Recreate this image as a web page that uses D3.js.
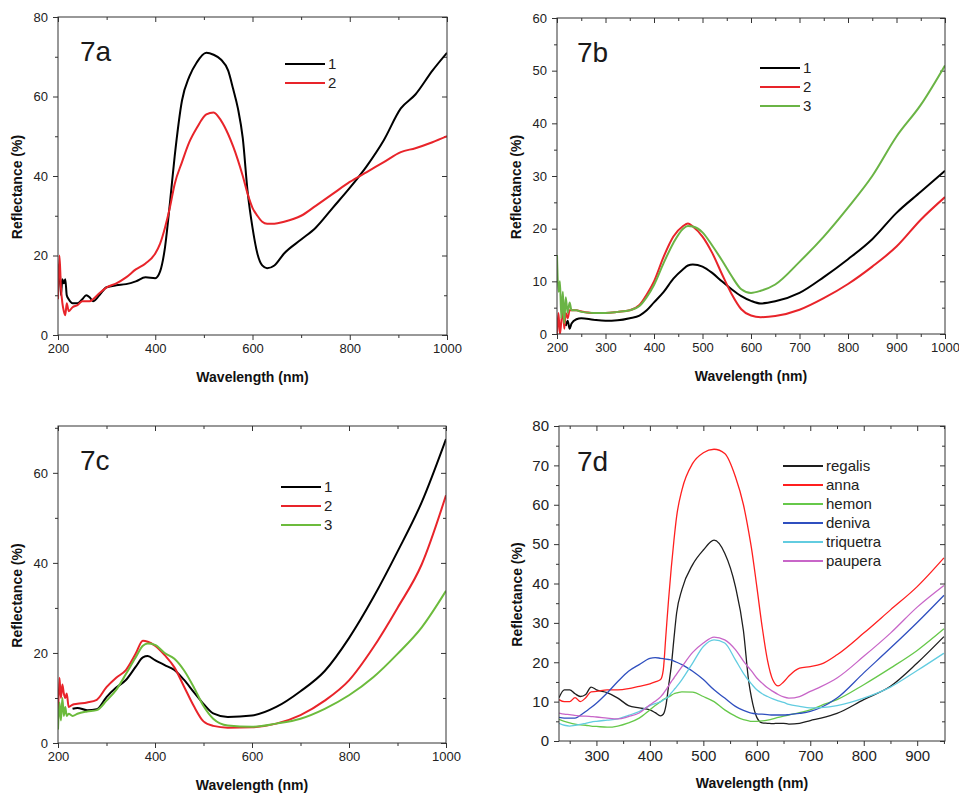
<!DOCTYPE html>
<html>
<head>
<meta charset="utf-8">
<script src="https://cdn.jsdelivr.net/npm/d3@7"></script>
<style>
  body { margin: 0; background: #fff; }
  svg text { font-family: Arial, "Liberation Sans", sans-serif; }
</style>
</head>
<body>
<script>
// ---- 7a ----
var waveA = [200,203,206,209,212,215,218,222,230,240,250,258,265,272,285,300,320,340,360,380,400,410,420,430,440,455,470,485,505,520,535,550,560,570,580,590,600,610,620,630,645,665,700,730,765,800,835,870,905,935,970,1000];
var a1 = [12,18,10,14,13,14,10,9,8,8,9,10,9.5,8.5,10,12,12.5,12.8,13.5,14.5,14.3,16,22,33,45,59,65,68.5,71,70.5,69.3,66.5,62,57,49.5,36,27,20.5,17.5,16.8,17.5,20.5,24,27,32,37,42.5,49,57,60.5,66.5,71];
var a2 = [9,20,12,8,6,5,8,6,7,7.5,8.5,8.5,8.5,9,10.5,12,13,14.5,16.5,18,20.5,23,27,32,38,43.5,48.5,52,55.5,56,54,50.5,47.5,44,40,35.5,32,30,28.5,28,28,28.5,30,32.5,35.5,38.5,41,43.5,46,47,48.5,50];

// ---- 7b ----
var waveB = [200,203,206,209,212,215,218,222,226,230,240,250,275,300,325,350,370,385,400,420,440,460,470,480,500,520,540,560,580,600,620,650,700,750,800,850,900,950,1000];
var b1 = [null,null,null,null,null,null,1.5,2.5,1,2,2.8,3,2.7,2.5,2.6,3,3.5,4.5,6,8,10.5,12.3,13,13.2,12.8,11.6,10,8.5,7.2,6.3,5.8,6.2,7.8,10.8,14.2,18,23,27,31];
var b2 = [0,4,0,2.5,5,1,4,3,4.5,4.5,4.5,4.3,4,4,4.2,4.5,5.5,7.5,10,14.7,18.5,20.5,21,20.4,18.5,15.4,11.4,7.6,4.7,3.5,3.2,3.4,4.6,6.8,9.5,12.8,16.6,21.7,26];
var b3 = [15,8,10,3,8,2,7,4,6,4.5,4.5,4.2,4,4,4.2,4.5,5.3,7,9.3,13.5,17.3,20,20.5,20.4,19.3,16.8,14,11,8.5,7.8,8.2,9.4,13.7,18.5,24,30,37.5,43.5,51];

// ---- 7c ----
var waveC = [200,203,206,209,212,215,218,222,230,240,260,280,300,320,340,360,375,385,400,420,440,460,480,500,520,550,600,650,700,750,800,850,900,950,1000];
var c1 = [null,null,null,null,null,null,null,null,7.6,7.8,7.3,7.5,10.2,12.3,14,16.9,19,19.3,18.4,17.3,16.2,14,11.3,8.7,6.6,5.8,6.1,8,11.5,16,23.3,32.3,42.5,53.5,67.5];
var c2 = [5,14.5,10,13,11,10,11,8,8.5,8.7,9,9.6,12.4,14.5,16.2,19.8,22.7,22.5,21.6,19.5,16.8,12.5,8.2,4.8,3.8,3.4,3.5,4.3,6.2,9.4,13.9,21.2,30,39.7,55];
var c3 = [3,9,5,10,6,8,6,6.5,6,6.5,7,7.3,9.4,11.8,15.3,19,21.6,22.1,21.8,20,18.7,16.1,12.4,8.2,5.4,3.9,3.6,4.3,5.4,7.6,10.6,14.6,19.8,25.7,33.8];

// ---- 7d ----
var waveD = [230,240,250,260,270,280,290,300,320,340,360,380,400,410,420,425,430,435,440,445,450,460,480,500,520,540,560,575,585,590,600,610,620,630,640,650,660,680,700,720,750,800,850,900,950];
var regalis = [11,13,13,12,11.3,11.8,13.7,13,12.3,10.9,9,8.4,7.9,7.2,6.4,6.8,9,14,19,26,32.5,38.5,44.8,48.5,51,47.7,39.2,28,15,11,6,4.6,4.5,4.4,4.5,4.5,4.3,4.5,5.2,5.8,7,10.5,13.9,19.8,26.5];
var anna = [10.5,10,10,11,10,11,12.5,12.6,13,13,13.3,13.9,14.5,15,15.6,18,27,36,44,51,57,63.8,70.5,73.2,74.1,73,67.1,60,53,49,39.2,29,20.5,15.5,14,15,16.5,18.5,18.9,19.5,21.9,27.4,33.3,39.2,46.5];
var hemon = [5.5,5,4.6,4.3,4.1,4,3.8,3.7,3.5,3.8,4.6,5.8,7.9,9,10,10.5,10.9,11.2,11.6,12,12.2,12.5,12.4,11.3,10,7.9,6.3,5.4,5.1,5,5,5.1,5.3,5.6,6,6.3,6.6,7.2,7.9,9,10.5,14.3,18.5,23,28.5];
var deniva = [6,5.8,5.8,5.8,6.5,7.5,8.5,9.6,12.2,15.1,17.7,19.4,21,21.2,21,20.9,20.8,20.7,20.6,20.3,20,19.4,17.7,15.6,13,10.9,8.8,7.8,7.3,7.1,6.9,6.8,6.7,6.6,6.6,6.6,6.7,7,7.5,8.5,10.9,17.3,23.6,30.1,37];
var triquetra = [4.5,4,3.8,4,4.2,4.5,4.8,5,5.3,5.6,6.5,7.5,9,9.5,10,10.4,10.8,11.3,12.2,13,13.8,15.6,19.8,24,25.7,24.9,20.6,17.2,15.3,14.5,13,12,11.3,10.7,10.2,9.8,9.3,8.8,8.4,8.5,9,10.9,13.7,17.9,22.3];
var paupera = [7.1,6.8,6.7,6.5,6.3,6.3,6.2,6.1,5.8,5.6,6.2,7.1,9.2,10.1,11.2,12,13,14,15.1,16,17,18.9,22.5,24.9,26.4,25.7,23.2,20.3,18.6,17.8,16,14.7,13.5,12.6,11.8,11.2,10.9,11.3,12.6,13.8,16,21.5,27.4,34,39.5];

var namesD = ["regalis", "anna", "hemon", "deniva", "triquetra", "paupera"];

// ticks
var xMajorA = [200, 400, 600, 800, 1000], xMinorA = [300, 500, 700, 900];
var yMajorA = [0, 20, 40, 60, 80], yMinorA = [10, 30, 50, 70];
var xMajorB = [200, 300, 400, 500, 600, 700, 800, 900, 1000], xMinorB = [250, 350, 450, 550, 650, 750, 850, 950];
var yMajorB = [0, 10, 20, 30, 40, 50, 60], yMinorB = [5, 15, 25, 35, 45, 55];
var yMajorC = [0, 20, 40, 60], yMinorC = [10, 30, 50, 70];
var xMajorD = [300, 400, 500, 600, 700, 800, 900], xMinorD = [250, 350, 450, 550, 650, 750, 850, 950];
var yMajorD = [0, 10, 20, 30, 40, 50, 60, 70, 80], yMinorD = [5, 15, 25, 35, 45, 55, 65, 75];

var svg = d3.select("body").append("svg")
  .attr("width", 959)
  .attr("height", 796);

function drawPanel(p) {
  var w = p.right - p.left, h = p.bottom - p.top;
  var g = svg.append("g").attr("transform", "translate(" + p.left + "," + p.top + ")");

  var x = d3.scaleLinear().domain(p.xDomain).range([0, w]);
  var y = d3.scaleLinear().domain(p.yDomain).range([h, 0]);

  g.append("clipPath").attr("id", "clip" + p.label)
    .append("rect").attr("width", w).attr("height", h);

  function tidy(sel, size) {
    sel.select(".domain").remove();
    sel.selectAll("line").attr("stroke", "#333");
    sel.selectAll("text").style("font-size", size + "px").attr("fill", "#222");
  }

  // outward ticks with labels on bottom and left
  g.append("g").attr("transform", "translate(0," + h + ")")
    .call(d3.axisBottom(x).tickValues(p.xMajor).tickSize(5).tickPadding(4).tickFormat(d3.format("d")))
    .call(tidy, p.tickFont);
  g.append("g").attr("transform", "translate(0," + h + ")")
    .call(d3.axisBottom(x).tickValues(p.xMinor).tickSize(3).tickFormat(""))
    .call(tidy, p.tickFont);
  g.append("g")
    .call(d3.axisLeft(y).tickValues(p.yMajor).tickSize(5).tickPadding(5).tickFormat(d3.format("d")))
    .call(tidy, p.tickFont);
  g.append("g")
    .call(d3.axisLeft(y).tickValues(p.yMinor).tickSize(3).tickFormat(""))
    .call(tidy, p.tickFont);

  // inward ticks on top and right
  g.append("g").call(d3.axisTop(x).tickValues(p.xMajor).tickSize(-5).tickFormat("")).call(tidy, 1);
  g.append("g").call(d3.axisTop(x).tickValues(p.xMinor).tickSize(-3).tickFormat("")).call(tidy, 1);
  g.append("g").attr("transform", "translate(" + w + ",0)")
    .call(d3.axisRight(y).tickValues(p.yMajor).tickSize(-5).tickFormat("")).call(tidy, 1);
  g.append("g").attr("transform", "translate(" + w + ",0)")
    .call(d3.axisRight(y).tickValues(p.yMinor).tickSize(-3).tickFormat("")).call(tidy, 1);

  var line = d3.line()
    .defined(function(d) { return d[1] != null; })
    .x(function(d) { return x(d[0]); })
    .y(function(d) { return y(d[1]); })
    .curve(d3.curveMonotoneX);

  var lines = g.append("g").attr("clip-path", "url(#clip" + p.label + ")");
  p.series.forEach(function(s) {
    lines.append("path")
      .datum(p.wave.map(function(wl, i) { return [wl, s.values[i]]; }))
      .attr("d", line)
      .attr("fill", "none")
      .attr("stroke", s.color)
      .attr("stroke-width", p.lineWidth)
      .attr("stroke-linejoin", "round");
  });

  g.append("rect")
    .attr("width", w).attr("height", h)
    .attr("fill", "none").attr("stroke", "#333").attr("stroke-width", 1);

  g.append("text")
    .attr("x", p.tagX).attr("y", p.tagY)
    .text(p.label)
    .style("font-size", "28px")
    .attr("fill", "#1a1a1a");

  // legend
  p.series.forEach(function(s, i) {
    var ly = p.legY + i * p.legStep;
    g.append("line")
      .attr("x1", p.legX).attr("x2", p.legX + 40)
      .attr("y1", ly).attr("y2", ly)
      .attr("stroke", s.color)
      .attr("stroke-width", p.legWidth);
    g.append("text")
      .attr("x", p.legX + 43).attr("y", ly)
      .attr("dy", "0.35em")
      .text(s.name)
      .style("font-size", "15px")
      .attr("fill", "#222");
  });

  g.append("text")
    .attr("x", w / 2).attr("y", h + 47)
    .attr("text-anchor", "middle")
    .text("Wavelength (nm)")
    .style("font-size", "14px").style("font-weight", "bold")
    .attr("fill", "#111");

  g.append("text")
    .attr("transform", "translate(" + p.yTitleX + "," + (h / 2 + 11) + ") rotate(-90)")
    .attr("text-anchor", "middle")
    .text("Reflectance (%)")
    .style("font-size", "14px").style("font-weight", "bold")
    .attr("fill", "#111");
}

var red = "#e8242a", black = "#000", green = "#6ab445";

drawPanel({
  label: "7a", left: 58, right: 447, top: 17, bottom: 335,
  xDomain: [200, 1000], yDomain: [0, 80],
  xMajor: xMajorA, xMinor: xMinorA, yMajor: yMajorA, yMinor: yMinorA,
  wave: waveA, lineWidth: 2, tickFont: 13,
  series: [{ name: "1", values: a1, color: black }, { name: "2", values: a2, color: red }],
  tagX: 22, tagY: 44, legX: 227, legY: 47, legStep: 19, legWidth: 2.2, yTitleX: -36
});

drawPanel({
  label: "7b", left: 557, right: 945, top: 18, bottom: 334,
  xDomain: [200, 1000], yDomain: [0, 60],
  xMajor: xMajorB, xMinor: xMinorB, yMajor: yMajorB, yMinor: yMinorB,
  wave: waveB, lineWidth: 2, tickFont: 13,
  series: [{ name: "1", values: b1, color: black }, { name: "2", values: b2, color: red }, { name: "3", values: b3, color: green }],
  tagX: 20, tagY: 44, legX: 203, legY: 50, legStep: 19, legWidth: 2.2, yTitleX: -36
});

drawPanel({
  label: "7c", left: 58, right: 446, top: 426, bottom: 743,
  xDomain: [200, 1000], yDomain: [0, 70.4],
  xMajor: xMajorA, xMinor: xMinorA, yMajor: yMajorC, yMinor: yMinorC,
  wave: waveC, lineWidth: 2, tickFont: 13,
  series: [{ name: "1", values: c1, color: black }, { name: "2", values: c2, color: red }, { name: "3", values: c3, color: "#6cbb3c" }],
  tagX: 22, tagY: 44, legX: 223, legY: 61, legStep: 19, legWidth: 2.2, yTitleX: -36
});

drawPanel({
  label: "7d", left: 559, right: 945, top: 426, bottom: 741,
  xDomain: [230, 952], yDomain: [0, 80],
  xMajor: xMajorD, xMinor: xMinorD, yMajor: yMajorD, yMinor: yMinorD,
  wave: waveD, lineWidth: 1.3, tickFont: 15,
  series: [
    { name: namesD[0], values: regalis, color: "#1e1e1e" },
    { name: namesD[1], values: anna, color: "#ff1f1f" },
    { name: namesD[2], values: hemon, color: "#66c84a" },
    { name: namesD[3], values: deniva, color: "#2f4fbf" },
    { name: namesD[4], values: triquetra, color: "#62cce0" },
    { name: namesD[5], values: paupera, color: "#c866c8" }
  ],
  tagX: 18, tagY: 45, legX: 224, legY: 40, legStep: 19, legWidth: 1.8, yTitleX: -37
});
</script>
</body>
</html>
